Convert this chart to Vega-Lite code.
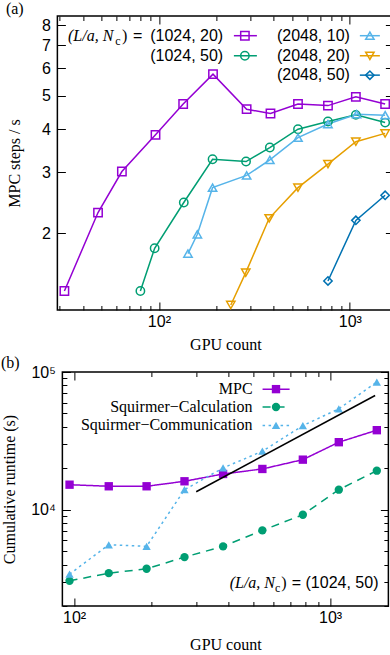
{
  "$schema": "https://vega.github.io/schema/vega-lite/v6.json",
  "padding": 0,
  "spacing": 0,
  "center": true,
  "config": {
    "view": {"stroke": "black", "strokeWidth": 1.5},
    "axis": {"domain": false, "grid": false, "ticks": true, "tickColor": "black", "tickWidth": 1,
      "labelFont": "Liberation Sans", "labelFontSize": 16, "labelColor": "black",
      "titleFont": "Liberation Serif", "titleFontSize": 16, "titleFontWeight": "normal", "titleColor": "black",
      "labelOverlap": false, "labelFlush": false, "labelBound": false}
  },
  "datasets": {
    "top": [
      {"series": "(1024, 20)", "gpu": 32, "rate": 1.362},
      {"series": "(1024, 20)", "gpu": 48, "rate": 2.296},
      {"series": "(1024, 20)", "gpu": 64, "rate": 3.017},
      {"series": "(1024, 20)", "gpu": 96, "rate": 3.853},
      {"series": "(1024, 20)", "gpu": 134, "rate": 4.73},
      {"series": "(1024, 20)", "gpu": 192, "rate": 5.77},
      {"series": "(1024, 20)", "gpu": 288, "rate": 4.57},
      {"series": "(1024, 20)", "gpu": 384, "rate": 4.44},
      {"series": "(1024, 20)", "gpu": 535, "rate": 4.73},
      {"series": "(1024, 20)", "gpu": 768, "rate": 4.68},
      {"series": "(1024, 20)", "gpu": 1075, "rate": 4.96},
      {"series": "(1024, 20)", "gpu": 1530, "rate": 4.73},
      {"series": "(1024, 50)", "gpu": 80, "rate": 1.362},
      {"series": "(1024, 50)", "gpu": 95, "rate": 1.81},
      {"series": "(1024, 50)", "gpu": 135, "rate": 2.455},
      {"series": "(1024, 50)", "gpu": 191, "rate": 3.275},
      {"series": "(1024, 50)", "gpu": 286, "rate": 3.225},
      {"series": "(1024, 50)", "gpu": 381, "rate": 3.54},
      {"series": "(1024, 50)", "gpu": 535, "rate": 4.0},
      {"series": "(1024, 50)", "gpu": 768, "rate": 4.21},
      {"series": "(1024, 50)", "gpu": 1075, "rate": 4.4},
      {"series": "(1024, 50)", "gpu": 1530, "rate": 4.18},
      {"series": "(2048, 10)", "gpu": 142, "rate": 1.747},
      {"series": "(2048, 10)", "gpu": 159, "rate": 1.987},
      {"series": "(2048, 10)", "gpu": 191, "rate": 2.71},
      {"series": "(2048, 10)", "gpu": 288, "rate": 2.94},
      {"series": "(2048, 10)", "gpu": 381, "rate": 3.26},
      {"series": "(2048, 10)", "gpu": 535, "rate": 3.78},
      {"series": "(2048, 10)", "gpu": 768, "rate": 4.14},
      {"series": "(2048, 10)", "gpu": 1085, "rate": 4.42},
      {"series": "(2048, 10)", "gpu": 1530, "rate": 4.39},
      {"series": "(2048, 20)", "gpu": 238, "rate": 1.241},
      {"series": "(2048, 20)", "gpu": 285, "rate": 1.539},
      {"series": "(2048, 20)", "gpu": 378, "rate": 2.21},
      {"series": "(2048, 20)", "gpu": 535, "rate": 2.71},
      {"series": "(2048, 20)", "gpu": 768, "rate": 3.17},
      {"series": "(2048, 20)", "gpu": 1075, "rate": 3.68},
      {"series": "(2048, 20)", "gpu": 1530, "rate": 3.89},
      {"series": "(2048, 50)", "gpu": 768, "rate": 1.456},
      {"series": "(2048, 50)", "gpu": 1075, "rate": 2.18},
      {"series": "(2048, 50)", "gpu": 1530, "rate": 2.576}
    ],
    "topLegend": [
      {"series": "(1024, 20)", "textEnd": 217, "lineStart": 247, "lineEnd": 326, "marker": 282, "level": 7.455},
      {"series": "(1024, 50)", "textEnd": 217, "lineStart": 247, "lineEnd": 326, "marker": 282, "level": 6.523},
      {"series": "(2048, 10)", "textEnd": 1000, "lineStart": 1128, "lineEnd": 1436, "marker": 1273, "level": 7.455},
      {"series": "(2048, 20)", "textEnd": 1000, "lineStart": 1128, "lineEnd": 1436, "marker": 1273, "level": 6.523},
      {"series": "(2048, 50)", "textEnd": 1000, "lineStart": 1128, "lineEnd": 1436, "marker": 1273, "level": 5.733}
    ],
    "bottom": [
      {"series": "MPC", "gpu": 96, "t": 15200},
      {"series": "MPC", "gpu": 136.6, "t": 14800},
      {"series": "MPC", "gpu": 192, "t": 14800},
      {"series": "MPC", "gpu": 270, "t": 16090},
      {"series": "MPC", "gpu": 382, "t": 18180},
      {"series": "MPC", "gpu": 544, "t": 19770},
      {"series": "MPC", "gpu": 783, "t": 23100},
      {"series": "MPC", "gpu": 1082, "t": 30920},
      {"series": "MPC", "gpu": 1523, "t": 37800},
      {"series": "Squirmer−Calculation", "gpu": 96, "t": 3045},
      {"series": "Squirmer−Calculation", "gpu": 136.6, "t": 3464},
      {"series": "Squirmer−Calculation", "gpu": 192, "t": 3725},
      {"series": "Squirmer−Calculation", "gpu": 270, "t": 4529},
      {"series": "Squirmer−Calculation", "gpu": 382, "t": 5418},
      {"series": "Squirmer−Calculation", "gpu": 544, "t": 7082},
      {"series": "Squirmer−Calculation", "gpu": 783, "t": 9197},
      {"series": "Squirmer−Calculation", "gpu": 1082, "t": 13980},
      {"series": "Squirmer−Calculation", "gpu": 1523, "t": 19210},
      {"series": "Squirmer−Communication", "gpu": 96, "t": 3407},
      {"series": "Squirmer−Communication", "gpu": 136.6, "t": 5566},
      {"series": "Squirmer−Communication", "gpu": 192, "t": 5418},
      {"series": "Squirmer−Communication", "gpu": 270, "t": 13980},
      {"series": "Squirmer−Communication", "gpu": 382, "t": 20110},
      {"series": "Squirmer−Communication", "gpu": 544, "t": 26590},
      {"series": "Squirmer−Communication", "gpu": 783, "t": 40810},
      {"series": "Squirmer−Communication", "gpu": 1082, "t": 54000},
      {"series": "Squirmer−Communication", "gpu": 1523, "t": 84440}
    ],
    "ideal": [
      {"gpu": 300, "t": 13500},
      {"gpu": 1500, "t": 67500}
    ],
    "bottomLegend": [
      {"series": "MPC", "textEnd": 498, "lineStart": 545, "lineEnd": 695, "marker": 615, "level": 75100},
      {"series": "Squirmer−Calculation", "textEnd": 498, "lineStart": 545, "lineEnd": 695, "marker": 615, "level": 55660},
      {"series": "Squirmer−Communication", "textEnd": 498, "lineStart": 545, "lineEnd": 695, "marker": 615, "level": 40960}
    ]
  },
  "vconcat": [
    {
      "width": 336,
      "height": 294,
      "resolve": {"axis": {"x": "independent", "y": "independent"}},
      "layer": [
        {
          "data": {"name": "top"},
          "mark": {"type": "line", "strokeWidth": 1.5},
          "encoding": {
            "x": {"field": "gpu", "type": "quantitative",
              "scale": {"type": "log", "domain": [29.4, 1690], "nice": false},
              "axis": {"orient": "bottom", "values": [30, 40, 50, 60, 70, 80, 90, 100, 200, 300, 400, 500, 600, 700, 800, 900, 1000],
                "labelExpr": "datum.value == 100 ? '10²' : datum.value == 1000 ? '10³' : ''",
                "tickSize": {"condition": {"test": "datum.value == 100 || datum.value == 1000", "value": -8}, "value": -4.5},
                "labelPadding": 11, "title": "GPU count", "titlePadding": 4}},
            "y": {"field": "rate", "type": "quantitative",
              "scale": {"type": "log", "domain": [1.2, 8.5], "nice": false},
              "axis": {"orient": "left", "values": [2, 3, 4, 5, 6, 7, 8], "format": "d", "tickSize": -8,
                "labelPadding": 15, "title": "MPC steps / s", "titleX": -43, "titleBaseline": "middle"}},
            "color": {"field": "series", "type": "nominal",
              "scale": {"domain": ["(1024, 20)", "(1024, 50)", "(2048, 10)", "(2048, 20)", "(2048, 50)"],
                "range": ["#9400D3", "#009E73", "#56B4E9", "#E69F00", "#0072B2"]}, "legend": null}
          }
        },
        {
          "data": {"name": "top"},
          "mark": {"type": "point", "filled": false, "strokeWidth": 1.5, "opacity": 1},
          "encoding": {
            "x": {"field": "gpu", "type": "quantitative", "scale": {"type": "log", "domain": [29.4, 1690], "nice": false}, "axis": null},
            "y": {"field": "rate", "type": "quantitative", "scale": {"type": "log", "domain": [1.2, 8.5], "nice": false}, "axis": null},
            "color": {"field": "series", "type": "nominal", "legend": null},
            "shape": {"field": "series", "type": "nominal",
              "scale": {"domain": ["(1024, 20)", "(1024, 50)", "(2048, 10)", "(2048, 20)", "(2048, 50)"],
                "range": ["square", "circle", "triangle-up", "triangle-down", "diamond"]}, "legend": null},
            "size": {"field": "series", "type": "nominal",
              "scale": {"domain": ["(1024, 20)", "(1024, 50)", "(2048, 10)", "(2048, 20)", "(2048, 50)"],
                "range": [70, 70, 110, 110, 90]}, "legend": null}
          }
        },
        {
          "data": {"name": "topLegend"},
          "mark": {"type": "rule", "strokeWidth": 1.5},
          "encoding": {
            "x": {"field": "lineStart", "type": "quantitative", "scale": {"type": "log", "domain": [29.4, 1690], "nice": false},
              "axis": {"orient": "top", "values": [30, 40, 50, 60, 70, 80, 90, 100, 200, 300, 400, 500, 600, 700, 800, 900, 1000],
                "labels": false, "title": null,
                "tickSize": {"condition": {"test": "datum.value == 100 || datum.value == 1000", "value": -8}, "value": -4.5}}},
            "x2": {"field": "lineEnd"},
            "y": {"field": "level", "type": "quantitative", "scale": {"type": "log", "domain": [1.2, 8.5], "nice": false},
              "axis": {"orient": "right", "values": [2, 3, 4, 5, 6, 7, 8], "labels": false, "title": null, "tickSize": -8}},
            "color": {"field": "series", "type": "nominal", "legend": null}
          }
        },
        {
          "data": {"name": "topLegend"},
          "mark": {"type": "point", "filled": false, "strokeWidth": 1.5, "opacity": 1},
          "encoding": {
            "x": {"field": "marker", "type": "quantitative", "scale": {"type": "log", "domain": [29.4, 1690], "nice": false}, "axis": null},
            "y": {"field": "level", "type": "quantitative", "scale": {"type": "log", "domain": [1.2, 8.5], "nice": false}, "axis": null},
            "color": {"field": "series", "type": "nominal", "legend": null},
            "shape": {"field": "series", "type": "nominal", "legend": null},
            "size": {"field": "series", "type": "nominal", "legend": null}
          }
        },
        {
          "data": {"name": "topLegend"},
          "mark": {"type": "text", "align": "right", "baseline": "middle", "font": "Liberation Sans", "fontSize": 16, "color": "black"},
          "encoding": {
            "x": {"field": "textEnd", "type": "quantitative", "scale": {"type": "log", "domain": [29.4, 1690], "nice": false}, "axis": null},
            "y": {"field": "level", "type": "quantitative", "scale": {"type": "log", "domain": [1.2, 8.5], "nice": false}, "axis": null},
            "text": {"field": "series"}
          }
        },
        {
          "data": {"values": [{"label": "(L/a, N", "gpu": 33.4, "rate": 7.455}]},
          "mark": {"type": "text", "align": "left", "baseline": "middle", "font": "Liberation Serif", "fontStyle": "italic", "fontSize": 16, "color": "black"},
          "encoding": {
            "x": {"field": "gpu", "type": "quantitative", "scale": {"type": "log", "domain": [29.4, 1690], "nice": false}, "axis": null},
            "y": {"field": "rate", "type": "quantitative", "scale": {"type": "log", "domain": [1.2, 8.5], "nice": false}, "axis": null},
            "text": {"field": "label"}
          }
        },
        {
          "data": {"values": [{"label": "c", "gpu": 59.0, "rate": 7.455}]},
          "mark": {"type": "text", "align": "left", "baseline": "middle", "dy": 5, "font": "Liberation Serif", "fontSize": 12, "color": "black"},
          "encoding": {
            "x": {"field": "gpu", "type": "quantitative", "scale": {"type": "log", "domain": [29.4, 1690], "nice": false}, "axis": null},
            "y": {"field": "rate", "type": "quantitative", "scale": {"type": "log", "domain": [1.2, 8.5], "nice": false}, "axis": null},
            "text": {"field": "label"}
          }
        },
        {
          "data": {"values": [{"label": ")", "gpu": 64.0, "rate": 7.455}]},
          "mark": {"type": "text", "align": "left", "baseline": "middle", "font": "Liberation Serif", "fontSize": 16, "color": "black"},
          "encoding": {
            "x": {"field": "gpu", "type": "quantitative", "scale": {"type": "log", "domain": [29.4, 1690], "nice": false}, "axis": null},
            "y": {"field": "rate", "type": "quantitative", "scale": {"type": "log", "domain": [1.2, 8.5], "nice": false}, "axis": null},
            "text": {"field": "label"}
          }
        },
        {
          "data": {"values": [{"label": "=", "gpu": 73.1, "rate": 7.455}]},
          "mark": {"type": "text", "align": "left", "baseline": "middle", "font": "Liberation Sans", "fontSize": 16, "color": "black"},
          "encoding": {
            "x": {"field": "gpu", "type": "quantitative", "scale": {"type": "log", "domain": [29.4, 1690], "nice": false}, "axis": null},
            "y": {"field": "rate", "type": "quantitative", "scale": {"type": "log", "domain": [1.2, 8.5], "nice": false}, "axis": null},
            "text": {"field": "label"}
          }
        },
        {
          "data": {"values": [{"label": "(a)", "gpu": 15.8, "rate": 8.88}]},
          "mark": {"type": "text", "align": "left", "baseline": "middle", "font": "Liberation Serif", "fontSize": 16, "color": "black"},
          "encoding": {
            "x": {"field": "gpu", "type": "quantitative", "scale": {"type": "log", "domain": [29.4, 1690], "nice": false}, "axis": null},
            "y": {"field": "rate", "type": "quantitative", "scale": {"type": "log", "domain": [1.2, 8.5], "nice": false}, "axis": null},
            "text": {"field": "label"}
          }
        }
      ]
    },
    {
      "width": 326,
      "height": 234,
      "resolve": {"axis": {"x": "independent", "y": "independent"}},
      "layer": [
        {
          "data": {"name": "bottom"},
          "mark": {"type": "line", "strokeWidth": 1.5},
          "encoding": {
            "x": {"field": "gpu", "type": "quantitative",
              "scale": {"type": "log", "domain": [90, 1690], "nice": false},
              "axis": {"orient": "bottom", "values": [100, 200, 300, 400, 500, 600, 700, 800, 900, 1000],
                "labelExpr": "datum.value == 100 ? '10²' : datum.value == 1000 ? '10³' : ''",
                "tickSize": {"condition": {"test": "datum.value == 100 || datum.value == 1000", "value": -8}, "value": -4.5},
                "labelPadding": 11, "title": "GPU count", "titlePadding": 8}},
            "y": {"field": "t", "type": "quantitative",
              "scale": {"type": "log", "domain": [2000, 100000], "nice": false},
              "axis": {"orient": "left", "values": [2000, 3000, 4000, 5000, 6000, 7000, 8000, 9000, 10000, 20000, 30000, 40000, 50000, 60000, 70000, 80000, 90000, 100000],
                "labelExpr": "datum.value == 10000 ? '10⁴' : datum.value == 100000 ? '10⁵' : ''",
                "tickSize": {"condition": {"test": "datum.value == 10000 || datum.value == 100000", "value": -8}, "value": -4.5},
                "labelPadding": 15, "title": "Cumulative runtime (s)", "titleX": -53, "titleBaseline": "middle"}},
            "color": {"field": "series", "type": "nominal",
              "scale": {"domain": ["MPC", "Squirmer−Calculation", "Squirmer−Communication"],
                "range": ["#9400D3", "#009E73", "#56B4E9"]}, "legend": null},
            "strokeDash": {"field": "series", "type": "nominal",
              "scale": {"domain": ["MPC", "Squirmer−Calculation", "Squirmer−Communication"],
                "range": [[1, 0], [8, 6], [2.5, 3.5]]}, "legend": null}
          }
        },
        {
          "data": {"name": "bottom"},
          "mark": {"type": "point", "filled": true, "opacity": 1},
          "encoding": {
            "x": {"field": "gpu", "type": "quantitative", "scale": {"type": "log", "domain": [90, 1690], "nice": false}, "axis": null},
            "y": {"field": "t", "type": "quantitative", "scale": {"type": "log", "domain": [2000, 100000], "nice": false}, "axis": null},
            "color": {"field": "series", "type": "nominal", "legend": null},
            "shape": {"field": "series", "type": "nominal",
              "scale": {"domain": ["MPC", "Squirmer−Calculation", "Squirmer−Communication"],
                "range": ["square", "circle", "triangle-up"]}, "legend": null},
            "size": {"field": "series", "type": "nominal",
              "scale": {"domain": ["MPC", "Squirmer−Calculation", "Squirmer−Communication"],
                "range": [55, 75, 90]}, "legend": null}
          }
        },
        {
          "data": {"name": "ideal"},
          "mark": {"type": "line", "color": "black", "strokeWidth": 1.5},
          "encoding": {
            "x": {"field": "gpu", "type": "quantitative", "scale": {"type": "log", "domain": [90, 1690], "nice": false},
              "axis": {"orient": "top", "values": [100, 200, 300, 400, 500, 600, 700, 800, 900, 1000], "labels": false, "title": null,
                "tickSize": {"condition": {"test": "datum.value == 100 || datum.value == 1000", "value": -8}, "value": -4.5}}},
            "y": {"field": "t", "type": "quantitative", "scale": {"type": "log", "domain": [2000, 100000], "nice": false},
              "axis": {"orient": "right", "values": [2000, 3000, 4000, 5000, 6000, 7000, 8000, 9000, 10000, 20000, 30000, 40000, 50000, 60000, 70000, 80000, 90000, 100000],
                "labels": false, "title": null,
                "tickSize": {"condition": {"test": "datum.value == 10000 || datum.value == 100000", "value": -8}, "value": -4.5}}}
          }
        },
        {
          "data": {"name": "bottomLegend"},
          "mark": {"type": "rule", "strokeWidth": 1.5},
          "encoding": {
            "x": {"field": "lineStart", "type": "quantitative", "scale": {"type": "log", "domain": [90, 1690], "nice": false}, "axis": null},
            "x2": {"field": "lineEnd"},
            "y": {"field": "level", "type": "quantitative", "scale": {"type": "log", "domain": [2000, 100000], "nice": false}, "axis": null},
            "color": {"field": "series", "type": "nominal", "legend": null},
            "strokeDash": {"field": "series", "type": "nominal", "legend": null}
          }
        },
        {
          "data": {"name": "bottomLegend"},
          "mark": {"type": "point", "filled": true, "opacity": 1},
          "encoding": {
            "x": {"field": "marker", "type": "quantitative", "scale": {"type": "log", "domain": [90, 1690], "nice": false}, "axis": null},
            "y": {"field": "level", "type": "quantitative", "scale": {"type": "log", "domain": [2000, 100000], "nice": false}, "axis": null},
            "color": {"field": "series", "type": "nominal", "legend": null},
            "shape": {"field": "series", "type": "nominal", "legend": null},
            "size": {"field": "series", "type": "nominal", "legend": null}
          }
        },
        {
          "data": {"name": "bottomLegend"},
          "mark": {"type": "text", "align": "right", "baseline": "middle", "font": "Liberation Serif", "fontSize": 16, "color": "black"},
          "encoding": {
            "x": {"field": "textEnd", "type": "quantitative", "scale": {"type": "log", "domain": [90, 1690], "nice": false}, "axis": null},
            "y": {"field": "level", "type": "quantitative", "scale": {"type": "log", "domain": [2000, 100000], "nice": false}, "axis": null},
            "text": {"field": "series"}
          }
        },
        {
          "data": {"values": [{"label": "(L/a, N", "gpu": 405.4, "t": 2931}]},
          "mark": {"type": "text", "align": "left", "baseline": "middle", "font": "Liberation Serif", "fontStyle": "italic", "fontSize": 16, "color": "black"},
          "encoding": {
            "x": {"field": "gpu", "type": "quantitative", "scale": {"type": "log", "domain": [90, 1690], "nice": false}, "axis": null},
            "y": {"field": "t", "type": "quantitative", "scale": {"type": "log", "domain": [2000, 100000], "nice": false}, "axis": null},
            "text": {"field": "label"}
          }
        },
        {
          "data": {"values": [{"label": "c", "gpu": 610, "t": 2931}]},
          "mark": {"type": "text", "align": "left", "baseline": "middle", "dy": 5, "font": "Liberation Serif", "fontSize": 12, "color": "black"},
          "encoding": {
            "x": {"field": "gpu", "type": "quantitative", "scale": {"type": "log", "domain": [90, 1690], "nice": false}, "axis": null},
            "y": {"field": "t", "type": "quantitative", "scale": {"type": "log", "domain": [2000, 100000], "nice": false}, "axis": null},
            "text": {"field": "label"}
          }
        },
        {
          "data": {"values": [{"label": ")", "gpu": 644, "t": 2931}]},
          "mark": {"type": "text", "align": "left", "baseline": "middle", "font": "Liberation Serif", "fontSize": 16, "color": "black"},
          "encoding": {
            "x": {"field": "gpu", "type": "quantitative", "scale": {"type": "log", "domain": [90, 1690], "nice": false}, "axis": null},
            "y": {"field": "t", "type": "quantitative", "scale": {"type": "log", "domain": [2000, 100000], "nice": false}, "axis": null},
            "text": {"field": "label"}
          }
        },
        {
          "data": {"values": [{"label": "= (1024, 50)", "gpu": 1546, "t": 2931}]},
          "mark": {"type": "text", "align": "right", "baseline": "middle", "font": "Liberation Sans", "fontSize": 16, "color": "black"},
          "encoding": {
            "x": {"field": "gpu", "type": "quantitative", "scale": {"type": "log", "domain": [90, 1690], "nice": false}, "axis": null},
            "y": {"field": "t", "type": "quantitative", "scale": {"type": "log", "domain": [2000, 100000], "nice": false}, "axis": null},
            "text": {"field": "label"}
          }
        },
        {
          "data": {"values": [{"label": "(b)", "gpu": 51.8, "t": 116700}]},
          "mark": {"type": "text", "align": "left", "baseline": "middle", "font": "Liberation Serif", "fontSize": 16, "color": "black"},
          "encoding": {
            "x": {"field": "gpu", "type": "quantitative", "scale": {"type": "log", "domain": [90, 1690], "nice": false}, "axis": null},
            "y": {"field": "t", "type": "quantitative", "scale": {"type": "log", "domain": [2000, 100000], "nice": false}, "axis": null},
            "text": {"field": "label"}
          }
        }
      ]
    }
  ]
}
